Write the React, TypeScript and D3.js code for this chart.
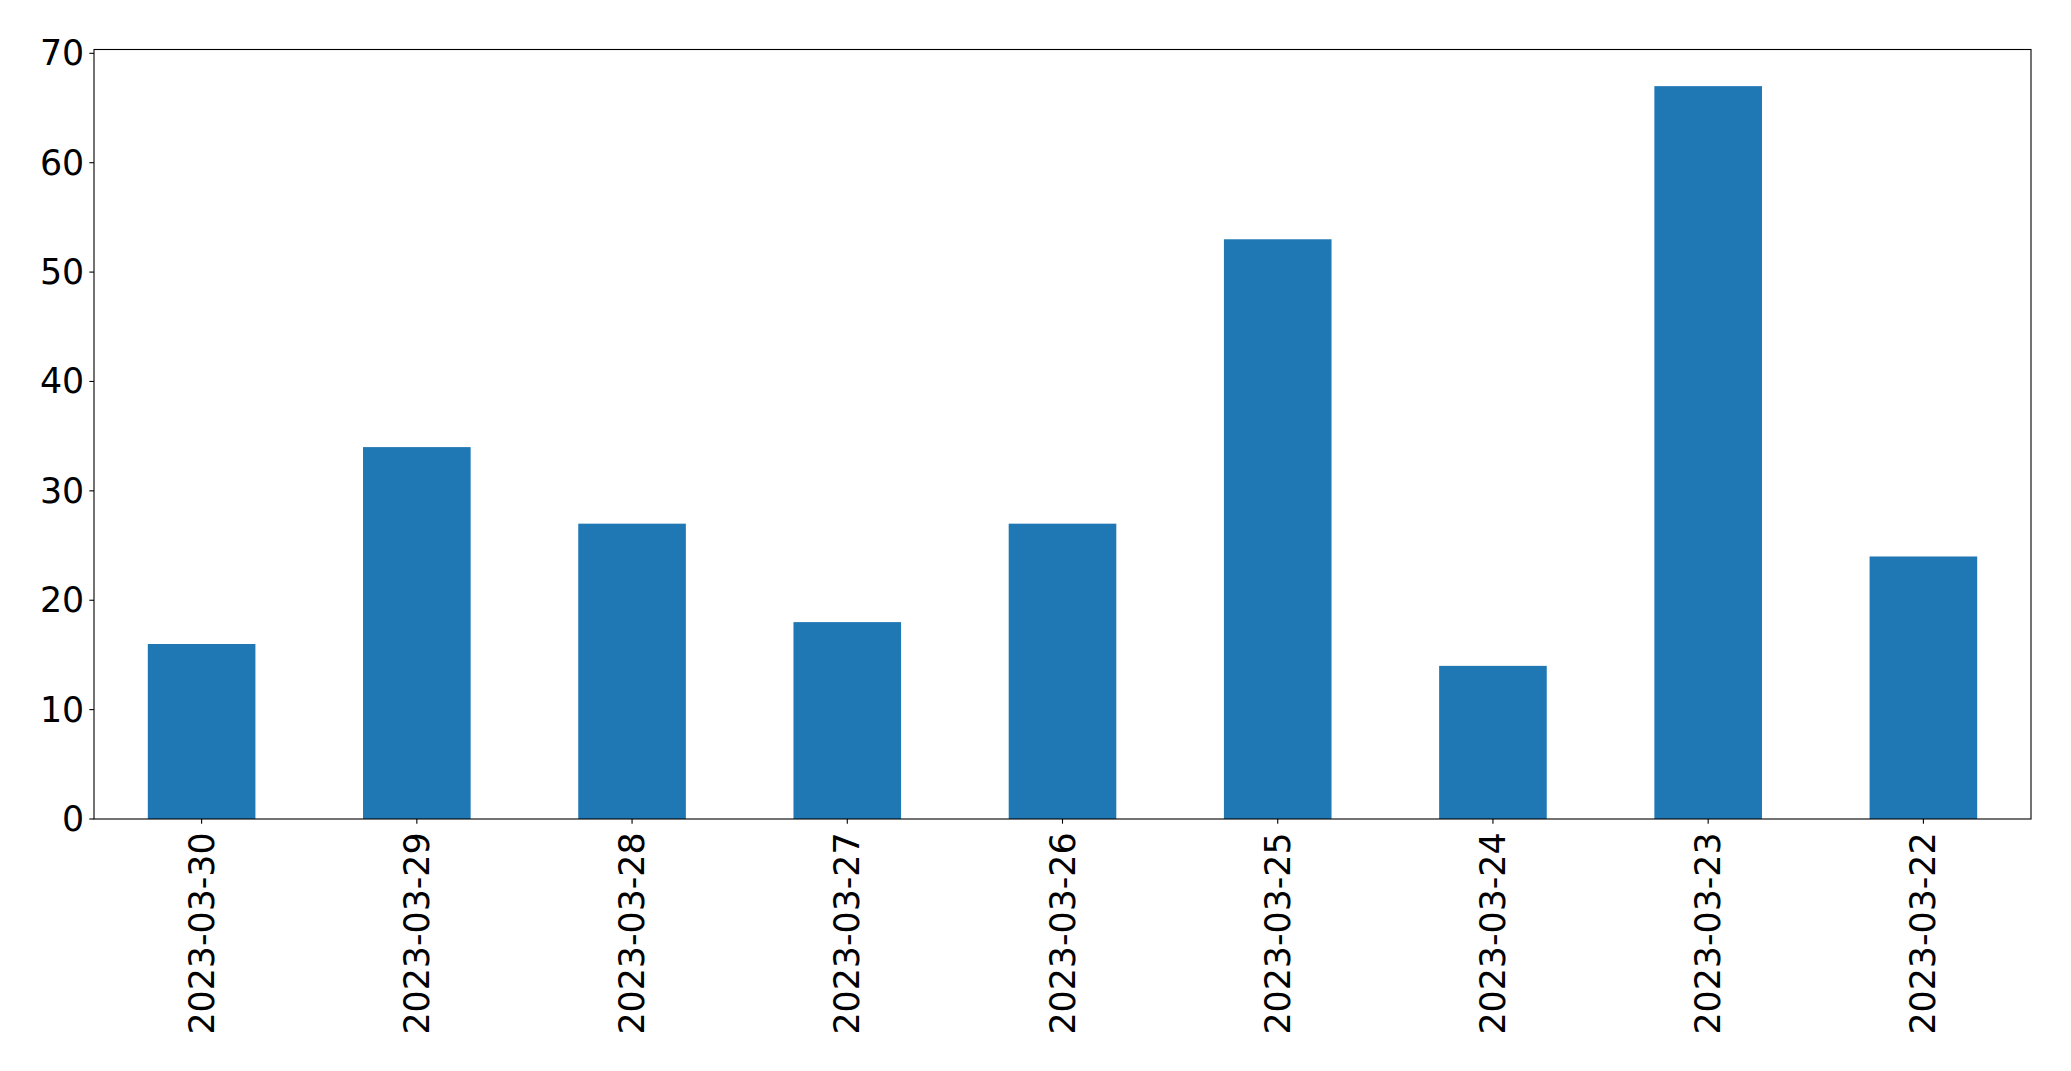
import React from "react";
import * as d3 from "d3";

const categories = ["2023-03-30", "2023-03-29", "2023-03-28", "2023-03-27", "2023-03-26", "2023-03-25", "2023-03-24", "2023-03-23", "2023-03-22"];
const values = [16, 34, 27, 18, 27, 53, 14, 67, 24];
const yTicks = [0, 10, 20, 30, 40, 50, 60, 70];

const W = 2071;
const H = 1071;
const M = { left: 94, right: 2031, top: 49.5, bottom: 819 };
const FONT = "'DejaVu Sans', sans-serif";
const FS = 34.8;
const TICK = 4.67;
const PAD = 4.67;

export default function App() {
  const x = d3
    .scaleLinear()
    .domain([-0.5, categories.length - 0.5])
    .range([M.left, M.right]);
  const yMax = d3.max(values)! * 1.05;
  const y = d3.scaleLinear().domain([0, yMax]).range([M.bottom, M.top]);
  const bw = x(0.25) - x(-0.25);

  return (
    <svg
      width={W}
      height={H}
      style={{ position: "absolute", left: 0, top: 0, background: "#fff" }}
      fontFamily={FONT}
    >
      <rect x={0} y={0} width={W} height={H} fill="#fff" />
      {values.map((v, i) => (
        <rect
          key={categories[i]}
          x={x(i) - bw / 2}
          y={y(v)}
          width={bw}
          height={y(0) - y(v)}
          fill="#1f77b4"
        />
      ))}
      <rect
        x={M.left}
        y={M.top}
        width={M.right - M.left}
        height={M.bottom - M.top}
        fill="none"
        stroke="#000"
        strokeWidth={1.1}
      />
      {yTicks.map((t) => (
        <g key={t}>
          <line x1={M.left - TICK} x2={M.left} y1={y(t)} y2={y(t)} stroke="#000" strokeWidth={1.1} />
          <text
            x={M.left - TICK - PAD - 0.5}
            y={y(t)}
            textAnchor="end"
            dominantBaseline="central"
            fontSize={FS}
            fill="#000"
          >
            {t}
          </text>
        </g>
      ))}
      {categories.map((c, i) => (
        <g key={c}>
          <line x1={x(i)} x2={x(i)} y1={M.bottom} y2={M.bottom + TICK} stroke="#000" strokeWidth={1.1} />
          <text
            transform={`translate(${x(i)},${M.bottom + TICK + PAD + 4}) rotate(-90)`}
            textAnchor="end"
            dominantBaseline="central"
            fontSize={FS}
            fill="#000"
          >
            {c}
          </text>
        </g>
      ))}
    </svg>
  );
}
